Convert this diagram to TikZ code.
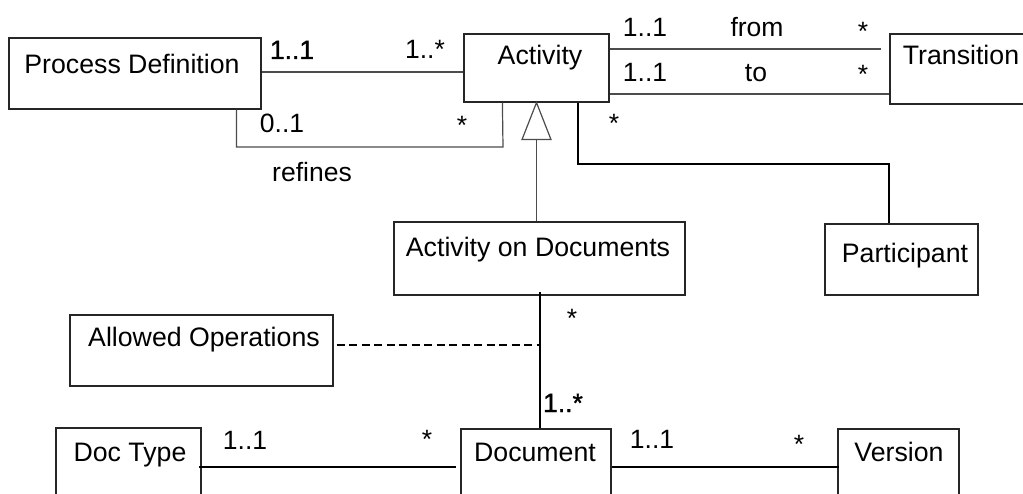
\documentclass[tikz,border=0pt]{standalone}
\usepackage{fontspec}
\setmainfont{Liberation Sans}
\newfontfamily\heavyfont[FakeBold=1.2]{Liberation Sans}
\usetikzlibrary{calc}

\begin{document}
\begin{tikzpicture}[x=1pt,y=-1pt,
  box/.style={draw=black!85, line width=1.2pt, inner sep=0pt, fill=white},
  boxtext/.style={font=\fontsize{26.7}{30}\selectfont, inner sep=0pt, anchor=base},
  mult/.style={font=\fontsize{26.5}{30}\selectfont, inner sep=0pt, anchor=base},
  heavymult/.style={mult, font=\fontsize{26.5}{30}\heavyfont},
  thinline/.style={draw=black!70, line width=1.2pt},
  thickline/.style={draw=black, line width=2.4pt},
  dashline/.style={draw=black, line width=1.6pt, dash pattern=on 8pt off 4.5pt}]
\useasboundingbox (0,0) rectangle (1023,494);
\clip (0,0) rectangle (1023,494);

% classes
\node[box, minimum width=252pt, minimum height=71pt] (pd)   at (135,73.5)   {};
\node[box, minimum width=145pt, minimum height=68pt] (act)  at (536.5,68)   {};
\node[box, minimum width=150pt, minimum height=70pt] (tr)   at (965,69)     {};
\node[box, minimum width=291pt, minimum height=73pt] (aod)  at (539.5,258.5){};
\node[box, minimum width=153pt, minimum height=71pt] (part) at (901.5,259.5){};
\node[box, minimum width=263pt, minimum height=71pt] (ao)   at (201.5,350.5){};
\node[box, minimum width=145pt, minimum height=72pt] (dt)   at (128.5,464)  {};
\node[box, minimum width=150pt, minimum height=71pt] (doc)  at (536,464.5)  {};
\node[box, minimum width=121pt, minimum height=71pt] (ver)  at (898.5,464.5){};

% class names
\node[boxtext] (pdt)   at (132,74)  {Process Definition};
\node[boxtext] (actt)  at (540,65)  {Activity};
\node[boxtext] (trt)   at (961,65)  {Transition};
\node[boxtext] (aodt)  at (538,257) {Activity on Documents};
\node[boxtext] (partt) at (905,263) {Participant};
\node[boxtext] (aot)   at (204,347) {Allowed Operations};
\node[boxtext] (dtt)   at (130,461) {Doc Type};
\node[boxtext] (doct)  at (535,461) {Document};
\node[boxtext] (vert)  at (899,461) {Version};

% Process Definition -- Activity
\draw[thinline] (pd.east |- 0,72) -- (act.west |- 0,72);
\node[heavymult] (m1) at (292,59) {1..1};
\node[mult] (m2) at (425,59) {1..*};

% refines
\draw[thinline] ([xshift=228pt]pd.south west) |- (503,147) -- ([xshift=39pt]act.south west);
\node[mult] (m3) at (282,133) {0..1};
\node[mult] (m4) at (462,135) {*};
\node[mult] (rf) at (312,182) {refines};

% Activity -- Transition (from / to)
\draw[thinline] (act.east |- 0,49) -- ([xshift=-8pt]tr.west |- 0,49);
\draw[thinline] (act.east |- 0,94) -- (tr.west |- 0,94);
\node[mult] (m5) at (645,37) {1..1};
\node[mult] (fr) at (757,37) {from};
\node[mult] (m6) at (863,41) {*};
\node[mult] (m7) at (645,82) {1..1};
\node[mult] (to) at (756,82) {to};
\node[mult] (m8) at (863,84) {*};

% generalization Activity <- Activity on Documents
\draw[thinline, fill=white] (act.south) -- ++(-14.5,37) -- ++(29,0) -- cycle;
\draw[thinline] ($(act.south)+(0,37)$) -- (act.south |- aod.north);

% Activity -- Participant
\draw[thickline, line width=2pt] ([xshift=41.5pt]act.south) -- ++(0,61) -| ([xshift=-12.5pt]part.north);
\node[mult] (m9) at (614,133) {*};

% Activity on Documents -- Document, with association class
\draw[thickline, line width=2pt] (aod.south |- 0,292) -- (aod.south |- doc.north);
\draw[dashline] ([xshift=3pt]ao.east |- 0,345) -- (aod.south |- 0,345);
\node[mult] (m10) at (572,328) {*};
\node[heavymult] (m11) at (563,412) {1..*};

% Doc Type -- Document
\draw[thickline] ([xshift=-3pt]dt.east |- 0,467) -- ([xshift=-4pt]doc.west |- 0,467);
\node[mult] (m12) at (245,449) {1..1};
\node[mult] (m13) at (427,448) {*};

% Document -- Version
\draw[thickline] (doc.east |- 0,467) -- ([xshift=2pt]ver.west |- 0,467);
\node[mult] (m14) at (652,448) {1..1};
\node[mult] (m15) at (799,453) {*};
\end{tikzpicture}
\end{document}
